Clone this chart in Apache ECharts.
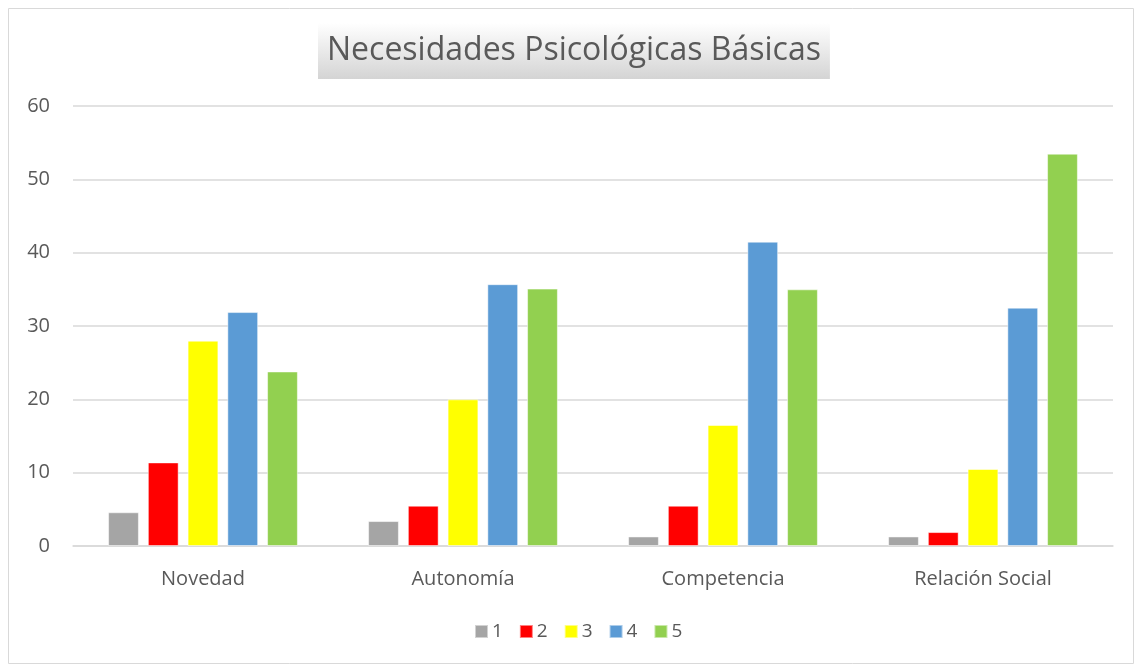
<!DOCTYPE html>
<html><head><meta charset="utf-8">
<script src="https://cdn.jsdelivr.net/npm/echarts@6/dist/echarts.min.js"></script>
<style>html,body{margin:0;padding:0;background:#fff}#c{width:1135px;height:666px}</style>
</head><body><div id="c"></div>
<script>
const categories = ['Novedad', 'Autonomía', 'Competencia', 'Relación Social'];
const seriesNames = ['1', '2', '3', '4', '5'];
const s1 = [4.6, 3.4, 1.3, 1.3];
const s2 = [11.4, 5.5, 5.5, 1.9];
const s3 = [28, 20, 16.5, 10.5];
const s4 = [31.9, 35.7, 41.5, 32.5];
const s5 = [23.8, 35.1, 35.0, 53.5];
const colors = ['#a5a5a5', '#ff0000', '#ffff00', '#5b9bd5', '#92d050'];
const values = [s1, s2, s3, s4, s5];
const font = 'Open Sans';
const chart = echarts.init(document.getElementById('c'));
chart.setOption({
  animation: false,
  color: colors,
  textStyle: { fontFamily: font },
  graphic: [{ type: 'rect', shape: { x: 8.5, y: 8.5, width: 1125, height: 655 }, style: { fill: 'none', stroke: '#d9d9d9', lineWidth: 1 }, z: -1 }],
  title: {
    text: 'Necesidades Psicológicas Básicas',
    left: 318, top: 23,
    padding: [10, 9, 10, 9],
    backgroundColor: new echarts.graphic.LinearGradient(0, 0, 0, 1, [{ offset: 0, color: '#ffffff' }, { offset: 1, color: '#d4d4d4' }]),
    textStyle: { fontFamily: font, fontSize: 32, lineHeight: 36, fontWeight: 'normal', color: '#595959' }
  },
  legend: {
    bottom: 20, left: 469, itemWidth: 13, itemHeight: 13, itemGap: 16,
    icon: 'rect',
    textStyle: { fontFamily: font, fontSize: 19, color: '#595959', padding: [0, 0, 0, -1] },
    data: seriesNames
  },
  grid: { left: 73, right: 22, top: 106, bottom: 120 },
  xAxis: {
    type: 'category', data: categories,
    axisLine: { lineStyle: { color: '#d9d9d9', width: 1.5 } },
    axisTick: { show: false },
    axisLabel: { fontFamily: font, fontSize: 20, color: '#595959', margin: 23 }
  },
  yAxis: {
    type: 'value', min: 0, max: 60, interval: 10,
    axisLine: { show: false }, axisTick: { show: false },
    splitLine: { lineStyle: { color: '#d9d9d9', width: 1.5 } },
    axisLabel: { fontFamily: font, fontSize: 20, color: '#595959', margin: 23 }
  },
  series: seriesNames.map((n, i) => ({
    name: n, type: 'bar', data: values[i],
    barGap: '29%', barCategoryGap: '27%',
    itemStyle: { color: colors[i], borderColor: 'rgba(255,255,255,0.5)', borderWidth: 1 }
  }))
});
</script></body></html>
